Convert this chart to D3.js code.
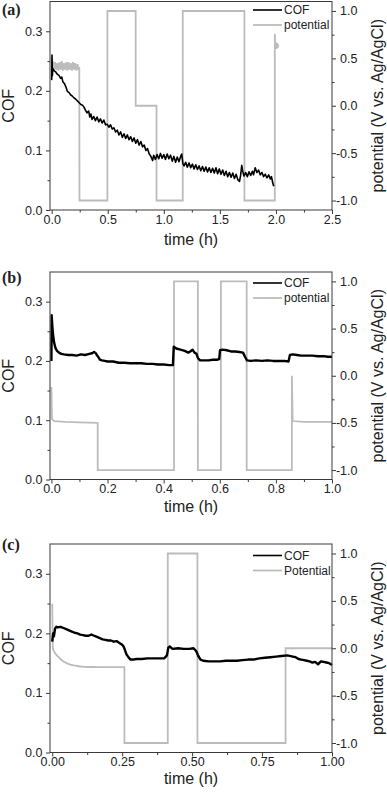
<!DOCTYPE html>
<html>
<head>
<meta charset="utf-8">
<script src="https://cdn.jsdelivr.net/npm/d3@7"></script>
<style>
  body { margin: 0; background: #fff; }
  svg { display: block; }
</style>
</head>
<body>
<div id="chart"></div>
<script>
// data: [time (h), value]

const cofA = [[0,0.218],[0.003,0.26],[0.006,0.225],[0.01,0.238],[0.02,0.234],[0.035,0.232],[0.05,0.228],[0.065,0.226],[0.08,0.221],[0.09,0.223],
  [0.1,0.215],[0.115,0.212],[0.13,0.205],[0.14,0.199],[0.155,0.197],[0.17,0.193],[0.185,0.191],[0.2,0.188],[0.215,0.186],[0.23,0.183],
  [0.245,0.18],[0.26,0.177],[0.275,0.176],[0.29,0.172],[0.3,0.168],[0.315,0.163],[0.33,0.166],[0.34,0.156],[0.35,0.161],[0.36,0.152],
  [0.375,0.157],[0.39,0.15],[0.405,0.156],[0.42,0.148],[0.435,0.153],[0.45,0.146],[0.465,0.151],[0.48,0.143],[0.495,0.144],[0.51,0.139],
  [0.525,0.143],[0.54,0.136],[0.555,0.138],[0.57,0.131],[0.585,0.134],[0.6,0.126],[0.615,0.131],[0.63,0.122],[0.645,0.128],[0.66,0.12],
  [0.675,0.126],[0.69,0.118],[0.705,0.123],[0.72,0.115],[0.735,0.121],[0.75,0.112],[0.765,0.118],[0.78,0.109],[0.795,0.115],[0.81,0.106],
  [0.825,0.109],[0.84,0.1],[0.855,0.103],[0.87,0.094],[0.885,0.09],[0.9,0.083],[0.91,0.092],[0.925,0.085],[0.94,0.093],[0.955,0.086],
  [0.97,0.095],[0.985,0.087],[1.0,0.093],[1.015,0.085],[1.03,0.094],[1.045,0.086],[1.06,0.092],[1.075,0.082],[1.09,0.09],[1.105,0.08],
  [1.12,0.089],[1.135,0.081],[1.15,0.09],[1.16,0.094],[1.17,0.078],[1.18,0.074],[1.195,0.08],[1.21,0.072],[1.225,0.079],[1.24,0.071],
  [1.255,0.077],[1.27,0.069],[1.285,0.076],[1.3,0.068],[1.315,0.074],[1.33,0.066],[1.345,0.073],[1.36,0.065],[1.375,0.072],[1.39,0.064],
  [1.405,0.071],[1.42,0.063],[1.435,0.07],[1.45,0.062],[1.465,0.071],[1.48,0.061],[1.495,0.069],[1.51,0.06],[1.525,0.067],[1.54,0.058],
  [1.555,0.065],[1.57,0.056],[1.585,0.063],[1.6,0.055],[1.615,0.062],[1.63,0.053],[1.645,0.06],[1.66,0.051],[1.675,0.048],[1.685,0.058],
  [1.695,0.075],[1.705,0.064],[1.715,0.057],[1.73,0.063],[1.745,0.056],[1.76,0.064],[1.775,0.058],[1.79,0.065],[1.8,0.059],[1.815,0.071],
  [1.83,0.063],[1.845,0.067],[1.86,0.059],[1.875,0.063],[1.89,0.056],[1.905,0.06],[1.92,0.054],[1.935,0.059],[1.95,0.052],[1.96,0.056],
  [1.97,0.047],[1.98,0.04]];

const potA = [[0,0.5],[0.005,0.38],[0.01,0.47],[0.02,0.37],[0.03,0.46],[0.04,0.38],[0.05,0.45],[0.06,0.37],[0.07,0.46],[0.08,0.38],
  [0.09,0.47],[0.1,0.37],[0.11,0.45],[0.12,0.38],[0.13,0.46],[0.14,0.37],[0.15,0.46],[0.16,0.38],[0.17,0.45],[0.18,0.37],
  [0.19,0.46],[0.2,0.38],[0.21,0.45],[0.22,0.37],[0.23,0.44],[0.24,0.38],[0.246,0.41],[0.248,-1],[0.497,-1],[0.497,1],
  [0.749,1],[0.749,0],[0.935,0],[0.935,-1],[1.169,-1],[1.169,1],[1.719,1],[1.719,-1],[1.99,-1],[1.99,0.76],
  [1.995,0.6],[2.0,0.67],[2.005,0.6],[2.01,0.66],[2.015,0.61],[2.02,0.65]];

const cofB = [[0,0.2],[0.001,0.277],[0.003,0.26],[0.006,0.244],[0.01,0.23],[0.015,0.221],[0.02,0.217],[0.027,0.214],[0.035,0.212],[0.045,0.211],
  [0.06,0.21],[0.075,0.21],[0.09,0.209],[0.105,0.211],[0.12,0.21],[0.135,0.212],[0.145,0.213],[0.152,0.215],[0.158,0.213],[0.163,0.209],
  [0.168,0.206],[0.173,0.202],[0.18,0.201],[0.19,0.2],[0.2,0.199],[0.22,0.199],[0.24,0.197],[0.26,0.197],[0.28,0.196],[0.3,0.196],
  [0.32,0.196],[0.34,0.195],[0.36,0.195],[0.38,0.194],[0.4,0.194],[0.42,0.193],[0.433,0.193],[0.436,0.224],[0.445,0.221],[0.46,0.219],
  [0.475,0.217],[0.488,0.214],[0.495,0.216],[0.503,0.219],[0.51,0.214],[0.517,0.212],[0.522,0.205],[0.53,0.201],[0.545,0.201],[0.56,0.201],
  [0.575,0.202],[0.59,0.202],[0.598,0.203],[0.601,0.218],[0.61,0.219],[0.625,0.218],[0.64,0.216],[0.655,0.216],[0.67,0.215],[0.683,0.214],
  [0.69,0.207],[0.697,0.201],[0.71,0.2],[0.73,0.201],[0.75,0.2],[0.77,0.201],[0.79,0.2],[0.81,0.2],[0.83,0.2],[0.845,0.199],
  [0.85,0.21],[0.86,0.211],[0.875,0.21],[0.89,0.209],[0.91,0.209],[0.93,0.209],[0.95,0.208],[0.97,0.208],[0.985,0.207],[1.0,0.207]];

const potB = [[0,-0.12],[0.002,-0.46],[0.01,-0.48],[0.05,-0.49],[0.1,-0.495],[0.165,-0.5],[0.165,-1],[0.437,-1],[0.437,1],[0.522,1],
  [0.522,-1],[0.604,-1],[0.604,1],[0.696,1],[0.696,-1],[0.857,-1],[0.857,0],[0.86,-0.48],[0.9,-0.49],[1.0,-0.49]];

const cofC = [[0,0.186],[0.003,0.2],[0.006,0.195],[0.01,0.208],[0.015,0.211],[0.02,0.21],[0.03,0.211],[0.04,0.209],[0.05,0.207],[0.06,0.205],
  [0.07,0.203],[0.08,0.201],[0.09,0.2],[0.1,0.198],[0.11,0.197],[0.12,0.196],[0.13,0.196],[0.14,0.198],[0.15,0.196],[0.16,0.194],
  [0.17,0.192],[0.18,0.19],[0.19,0.189],[0.2,0.188],[0.21,0.188],[0.22,0.186],[0.23,0.187],[0.24,0.184],[0.25,0.181],[0.255,0.178],
  [0.26,0.172],[0.265,0.165],[0.272,0.16],[0.28,0.156],[0.29,0.156],[0.3,0.157],[0.32,0.157],[0.34,0.158],[0.36,0.158],[0.38,0.158],
  [0.4,0.158],[0.41,0.163],[0.415,0.176],[0.42,0.178],[0.43,0.174],[0.45,0.175],[0.47,0.174],[0.49,0.174],[0.505,0.175],[0.515,0.17],
  [0.522,0.162],[0.53,0.156],[0.54,0.154],[0.56,0.153],[0.58,0.153],[0.6,0.153],[0.62,0.154],[0.64,0.154],[0.66,0.154],[0.68,0.155],
  [0.7,0.156],[0.72,0.156],[0.74,0.158],[0.76,0.159],[0.78,0.16],[0.8,0.161],[0.82,0.162],[0.84,0.163],[0.86,0.161],[0.87,0.16],
  [0.88,0.157],[0.89,0.156],[0.9,0.155],[0.91,0.154],[0.92,0.153],[0.93,0.151],[0.94,0.152],[0.95,0.148],[0.96,0.153],[0.97,0.152],
  [0.98,0.151],[0.99,0.15],[1.0,0.147]];

const potC = [[0,0.47],[0.002,0.0],[0.006,-0.03],[0.012,-0.06],[0.018,-0.08],[0.025,-0.1],[0.03,-0.116],[0.04,-0.14],[0.053,-0.16],[0.065,-0.172],
  [0.077,-0.18],[0.095,-0.19],[0.113,-0.196],[0.14,-0.198],[0.172,-0.2],[0.22,-0.2],[0.258,-0.2],[0.258,-1],[0.413,-1],[0.413,1],
  [0.519,1],[0.519,-1],[0.834,-1],[0.834,0],[1.0,0]];

// tick values
const xTicksA = [0, 0.5, 1, 1.5, 2, 2.5];
const xMinorA = [0.25, 0.75, 1.25, 1.75, 2.25];
const xTicksB = [0, 0.2, 0.4, 0.6, 0.8, 1];
const xMinorB = [0.1, 0.3, 0.5, 0.7, 0.9];
const xTicksC = [0, 0.25, 0.5, 0.75, 1];
const xMinorC = [0.125, 0.375, 0.625, 0.875];
const cofTicks = [0, 0.1, 0.2, 0.3];
const cofMinor = [0.05, 0.15, 0.25];
const potTicks = [-1, -0.5, 0, 0.5, 1];
const potMinor = [-0.75, -0.25, 0.25, 0.75];

const legendAB = ["COF", "potential"];
const legendC = ["COF", "Potential"];

const W = 387, H = 792;
const left = 50, right = 332;
const font = "'Liberation Sans', Arial, sans-serif";
const axisColor = "#3a3a3a";
const potColor = "#bcbcbc";

const svg = d3.select("#chart").append("svg")
    .attr("width", W)
    .attr("height", H);

const panels = [
  {label: "(a)", top: 1.5, height: 208.5, cof: cofA, pot: potA, xDomain: [-0.015, 2.5], xTicks: xTicksA, xMinor: xMinorA,
   fmt: 1, legend: legendAB, legY: 10, titleDy: 34.5, cofWidth: 1.6, labelY: 15},
  {label: "(b)", top: 272, height: 207.5, cof: cofB, pot: potB, xDomain: [-0.005, 1], xTicks: xTicksB, xMinor: xMinorB,
   fmt: 1, legend: legendAB, legY: 283, titleDy: 32.5, cofWidth: 2.4, labelY: 283},
  {label: "(c)", top: 544, height: 208.5, cof: cofC, pot: potC, xDomain: [-0.008, 1], xTicks: xTicksC, xMinor: xMinorC,
   fmt: 2, legend: legendC, legY: 555.5, titleDy: 31, cofWidth: 2.4, labelY: 550}
];

function styleAxis(g) {
  g.select(".domain").remove();
  g.selectAll("line").attr("stroke", axisColor);
  g.selectAll("text")
    .style("font-family", font)
    .style("font-size", "12.5px")
    .attr("fill", "#222");
}

function drawPanel(p) {
  const bottom = p.top + p.height;
  const x = d3.scaleLinear().domain(p.xDomain).range([left, right]);
  const yL = d3.scaleLinear().domain([0, 0.35]).range([bottom, p.top]);
  const yR = d3.scaleLinear().domain([-1.1, 1.1]).range([bottom, p.top]);

  const g = svg.append("g");

  // lines: potential under COF
  const linePot = d3.line().x(d => x(d[0])).y(d => yR(d[1]));
  const lineCof = d3.line().x(d => x(d[0])).y(d => yL(d[1]));

  g.append("path")
    .datum(p.pot)
    .attr("d", linePot)
    .attr("fill", "none")
    .attr("stroke", potColor)
    .attr("stroke-width", 1.8)
    .attr("stroke-linejoin", "miter");

  g.append("path")
    .datum(p.cof)
    .attr("d", lineCof)
    .attr("fill", "none")
    .attr("stroke", "#000")
    .attr("stroke-width", p.cofWidth)
    .attr("stroke-linejoin", "round");

  // frame
  g.append("rect")
    .attr("x", left).attr("y", p.top)
    .attr("width", right - left).attr("height", p.height)
    .attr("fill", "none")
    .attr("stroke", axisColor)
    .attr("stroke-width", 1);

  // bottom axis
  g.append("g")
    .attr("transform", `translate(0,${bottom})`)
    .call(d3.axisBottom(x).tickValues(p.xTicks).tickSize(4).tickPadding(1)
      .tickFormat(d => d.toFixed(p.fmt)))
    .call(styleAxis);
  g.append("g")
    .attr("transform", `translate(0,${bottom})`)
    .call(d3.axisBottom(x).tickValues(p.xMinor).tickSize(2.5).tickFormat(""))
    .call(styleAxis);

  // left axis
  g.append("g")
    .attr("transform", `translate(${left},0)`)
    .call(d3.axisLeft(yL).tickValues(cofTicks).tickSize(4).tickPadding(3.5)
      .tickFormat(d => d.toFixed(1)))
    .call(styleAxis);
  g.append("g")
    .attr("transform", `translate(${left},0)`)
    .call(d3.axisLeft(yL).tickValues(cofMinor).tickSize(2.5).tickFormat(""))
    .call(styleAxis);

  // right axis, labels right aligned
  g.append("g")
    .attr("transform", `translate(${right},0)`)
    .call(d3.axisRight(yR).tickValues(potTicks).tickSize(4)
      .tickFormat(d => d.toFixed(1)))
    .call(styleAxis)
    .call(a => a.selectAll("text").attr("text-anchor", "end").attr("x", 25.5));
  g.append("g")
    .attr("transform", `translate(${right},0)`)
    .call(d3.axisRight(yR).tickValues(potMinor).tickSize(2.5).tickFormat(""))
    .call(styleAxis);

  // axis titles
  g.append("text")
    .attr("x", (left + right) / 2)
    .attr("y", bottom + p.titleDy)
    .attr("text-anchor", "middle")
    .style("font-family", font)
    .style("font-size", "16px")
    .attr("fill", "#222")
    .text("time (h)");

  g.append("text")
    .attr("transform", `translate(14,${p.top + p.height / 2}) rotate(-90)`)
    .attr("text-anchor", "middle")
    .style("font-family", font)
    .style("font-size", "16px")
    .attr("fill", "#222")
    .text("COF");

  g.append("text")
    .attr("transform", `translate(382.5,${p.top + p.height / 2}) rotate(-90)`)
    .attr("text-anchor", "middle")
    .style("font-family", font)
    .style("font-size", "16px")
    .attr("fill", "#222")
    .text("potential (V vs. Ag/AgCl)");

  // panel label
  g.append("text")
    .attr("x", 2)
    .attr("y", p.labelY)
    .style("font-family", "'Liberation Serif', 'Times New Roman', serif")
    .style("font-weight", "bold")
    .style("font-size", "16px")
    .attr("fill", "#222")
    .text(p.label);

  // legend
  const leg = g.append("g").attr("transform", `translate(253,${p.legY})`);
  leg.selectAll("line")
    .data(p.legend)
    .join("line")
    .attr("x1", 0).attr("x2", 29)
    .attr("y1", (d, i) => i * 15).attr("y2", (d, i) => i * 15)
    .attr("stroke", (d, i) => i === 0 ? "#000" : potColor)
    .attr("stroke-width", (d, i) => i === 0 ? 1.6 : 1.8);
  leg.selectAll("text")
    .data(p.legend)
    .join("text")
    .attr("x", 31)
    .attr("y", (d, i) => i * 15)
    .attr("dy", "0.35em")
    .style("font-family", font)
    .style("font-size", "12px")
    .attr("fill", "#222")
    .text(d => d);
}

panels.forEach(drawPanel);
</script>
</body>
</html>
